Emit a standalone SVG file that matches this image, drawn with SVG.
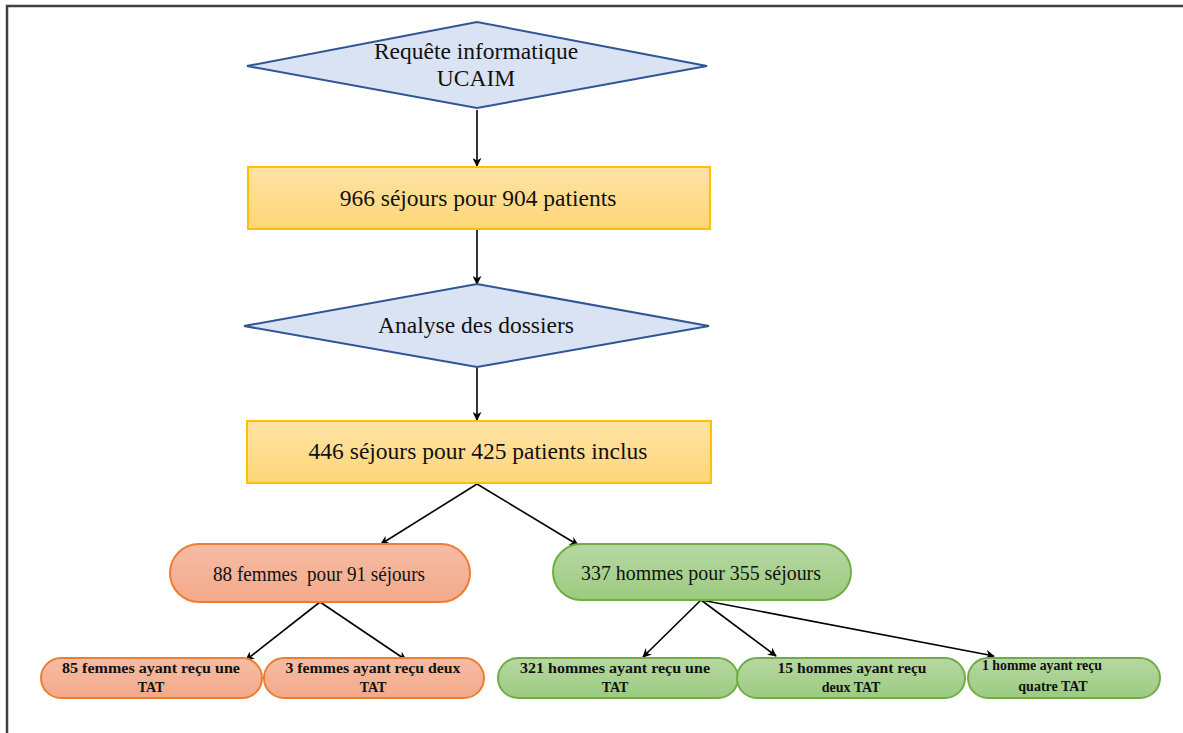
<svg xmlns="http://www.w3.org/2000/svg" width="1183" height="733" viewBox="0 0 1183 733">
<defs>
<linearGradient id="gY" x1="0" y1="0" x2="0" y2="1"><stop offset="0" stop-color="#ffe3a6"/><stop offset="1" stop-color="#ffd677"/></linearGradient>
<linearGradient id="gO" x1="0" y1="0" x2="0" y2="1"><stop offset="0" stop-color="#f6bca4"/><stop offset="1" stop-color="#f3a98a"/></linearGradient>
<linearGradient id="gG" x1="0" y1="0" x2="0" y2="1"><stop offset="0" stop-color="#b6d8a2"/><stop offset="1" stop-color="#9ccb80"/></linearGradient>
<marker id="arr" viewBox="0 0 10 10" refX="9" refY="5" markerWidth="9" markerHeight="9" orient="auto" markerUnits="userSpaceOnUse">
<path d="M0,0 L10,5 L0,10 L3,5 z" fill="#000"/>
</marker>
<style>
.dia{fill:#dae3f3;stroke:#2f5597;stroke-width:2}
.box{fill:url(#gY);stroke:#ffc000;stroke-width:2}
.po{fill:url(#gO);stroke:#ed7d31;stroke-width:2}
.pg{fill:url(#gG);stroke:#70ad47;stroke-width:2}
text{font-family:"Liberation Serif","Times New Roman",serif;fill:#111;text-anchor:middle}
.t1{font-size:23.5px}
.t2{font-size:20px}
.t3{font-size:14px;font-weight:bold}
.c{stroke:#000;stroke-width:1.6;fill:none;marker-end:url(#arr)}
</style>
</defs>
<rect width="1183" height="733" fill="#fff"/>
<path d="M7,733 V6 H1183" fill="none" stroke="#404040" stroke-width="2.5"/>
<g id="connectors">
<line class="c" x1="477" y1="110" x2="477" y2="166"/>
<line class="c" x1="477" y1="230" x2="477" y2="284"/>
<line class="c" x1="477" y1="368" x2="477" y2="420"/>
<line class="c" x1="477" y1="484" x2="381" y2="544"/>
<line class="c" x1="477" y1="484" x2="578" y2="545"/>
<line class="c" x1="320" y1="602" x2="246" y2="660"/>
<line class="c" x1="320" y1="602" x2="406" y2="660"/>
<line class="c" x1="701" y1="600" x2="643" y2="657"/>
<line class="c" x1="701" y1="600" x2="776" y2="656"/>
<line class="c" x1="701" y1="600" x2="994" y2="656"/>
</g>
<g id="n1"><polygon class="dia" points="247,66 477,22 707,66 477,108"/>
<text class="t1" x="476" y="59">Requête informatique</text><text class="t1" x="476" y="86">UCAIM</text></g>
<g id="n2"><rect class="box" x="248" y="167" width="462" height="62"/>
<text class="t1" x="478" y="206">966 séjours pour 904 patients</text></g>
<g id="n3"><polygon class="dia" points="244,326 477,284 709,326 477,367"/>
<text class="t1" x="476" y="333">Analyse des dossiers</text></g>
<g id="n4"><rect class="box" x="247" y="421" width="464" height="62"/>
<text class="t1" x="478" y="459">446 séjours pour 425 patients inclus</text></g>
<g id="n5"><rect class="po" x="170" y="544" width="300" height="58" rx="29"/>
<text class="t2" x="319" y="581" textLength="212" lengthAdjust="spacingAndGlyphs" xml:space="preserve">88 femmes  pour 91 séjours</text></g>
<g id="n6"><rect class="pg" x="553" y="544" width="298" height="56" rx="28"/>
<text class="t2" x="701" y="580" textLength="240" lengthAdjust="spacingAndGlyphs">337 hommes pour 355 séjours</text></g>
<g id="n7"><rect class="po" x="41" y="658" width="221" height="40" rx="20"/>
<text class="t3" x="151" y="673" textLength="178" lengthAdjust="spacingAndGlyphs">85 femmes ayant reçu une</text><text class="t3" x="151" y="692">TAT</text></g>
<g id="n8"><rect class="po" x="264" y="658" width="220" height="40" rx="20"/>
<text class="t3" x="373" y="673" textLength="175" lengthAdjust="spacingAndGlyphs">3 femmes ayant reçu deux</text><text class="t3" x="373" y="692">TAT</text></g>
<g id="n9"><rect class="pg" x="498" y="658" width="240" height="40" rx="20"/>
<text class="t3" x="615" y="673" textLength="190" lengthAdjust="spacingAndGlyphs">321 hommes ayant reçu une</text><text class="t3" x="615" y="692">TAT</text></g>
<g id="n10"><rect class="pg" x="737" y="658" width="228" height="40" rx="20"/>
<text class="t3" x="852" y="673" textLength="149" lengthAdjust="spacingAndGlyphs">15 hommes  ayant reçu</text><text class="t3" x="851" y="692">deux TAT</text></g>
<g id="n11"><rect class="pg" x="968" y="658" width="192" height="40" rx="20"/>
<text class="t3" x="1042" y="670" textLength="120" lengthAdjust="spacingAndGlyphs">1 homme ayant reçu</text><text class="t3" x="1053" y="691">quatre TAT</text></g>
</svg>
